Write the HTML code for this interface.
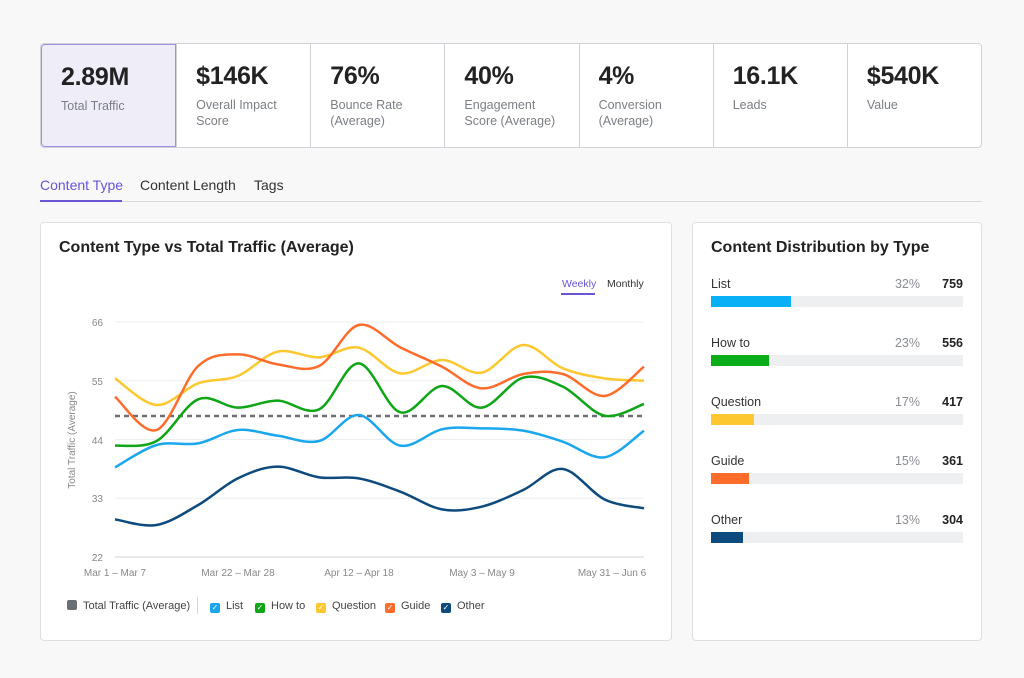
<!DOCTYPE html>
<html><head><meta charset="utf-8"><style>
*{box-sizing:border-box;margin:0;padding:0}
body{width:1024px;height:678px;background:#f8f8f8;font-family:"Liberation Sans",sans-serif;position:relative;overflow:hidden;color:#222}
.abs{position:absolute}
.kpi{left:40px;top:43px;width:942px;height:105px;border:1px solid #cfd3d8;border-radius:4px;background:#fff;display:flex;overflow:hidden}
.kpi div{flex:1;border-left:1px solid #cfd3d8;padding:18px 0 0 19px}
.kpi div:first-child{border:1px solid #9d8ee6;background:#efedf8;border-radius:4px 0 0 4px}
.kpi b{display:block;font-size:25px;font-weight:bold;color:#222;letter-spacing:-0.3px}
.kpi span{display:block;font-size:12.5px;color:#7b7f85;line-height:16px;margin-top:6px}
.tab{top:177px;font-size:14px;color:#333}
.card{background:#fff;border:1px solid #dcdfe3;border-radius:4px}
.row{position:absolute;left:711px;width:252px;font-size:12.5px;color:#333}
.row .p{position:absolute;right:43px;top:0;color:#8a8d92}
.row .v{position:absolute;right:0;top:0;font-weight:bold;color:#222}
.row .bg{position:absolute;left:0;top:19px;width:252px;height:11px;background:#eeeff1}
.row .fg{position:absolute;left:0;top:0;height:11px}
.lg{position:absolute;top:600px;font-size:11px;color:#444}
.lg i{display:inline-block;width:10px;height:10px;border-radius:2px;vertical-align:-1px;margin-right:6px;color:#fff;font-size:8px;line-height:10px;text-align:center;font-style:normal}
</style></head><body>
<div class="abs kpi">
<div><b>2.89M</b><span>Total Traffic</span></div>
<div><b>$146K</b><span>Overall Impact<br>Score</span></div>
<div><b>76%</b><span>Bounce Rate<br>(Average)</span></div>
<div><b>40%</b><span>Engagement<br>Score (Average)</span></div>
<div><b>4%</b><span>Conversion<br>(Average)</span></div>
<div><b>16.1K</b><span>Leads</span></div>
<div><b>$540K</b><span>Value</span></div>
</div>
<div class="abs tab" style="left:40px;color:#6a55d6">Content Type</div>
<div class="abs tab" style="left:140px">Content Length</div>
<div class="abs tab" style="left:254px">Tags</div>
<div class="abs" style="left:40px;top:201px;width:942px;height:1px;background:#d5d8dc"></div>
<div class="abs" style="left:40px;top:200px;width:82px;height:2px;background:#6a55d6"></div>

<div class="abs card" style="left:40px;top:222px;width:632px;height:419px"></div>
<div class="abs" style="left:59px;top:239px;font-size:16px;font-weight:bold;color:#222">Content Type vs Total Traffic (Average)</div>
<div class="abs" style="left:562px;top:278px;font-size:10.5px;color:#6a55d6">Weekly</div>
<div class="abs" style="left:561px;top:293px;width:34px;height:2px;background:#6a55d6"></div>
<div class="abs" style="left:607px;top:278px;font-size:10.5px;color:#333">Monthly</div>

<svg class="abs" style="left:0;top:0" width="1024" height="678" id="s">
<g stroke="#eceef0" stroke-width="1">
<line x1="115" x2="644" y1="322" y2="322"/><line x1="115" x2="644" y1="380.7" y2="380.7"/><line x1="115" x2="644" y1="439.5" y2="439.5"/><line x1="115" x2="644" y1="498.2" y2="498.2"/><line x1="115" x2="644" y1="557" y2="557" stroke="#d0d3d7"/>
</g>
<g font-family="Liberation Sans" font-size="10" fill="#888" text-anchor="end">
<text x="103" y="326">66</text><text x="103" y="385">55</text><text x="103" y="444">44</text><text x="103" y="502">33</text><text x="103" y="561">22</text>
</g>
<g font-family="Liberation Sans" font-size="10" fill="#888" text-anchor="middle">
<text x="115" y="576">Mar 1 – Mar 7</text><text x="238" y="576">Mar 22 – Mar 28</text><text x="359" y="576">Apr 12 – Apr 18</text><text x="482" y="576">May 3 – May 9</text><text x="612" y="576">May 31 – Jun 6</text>
</g>
<text transform="translate(75,440) rotate(-90)" font-family="Liberation Sans" font-size="10" fill="#888" text-anchor="middle">Total Traffic (Average)</text>
<line x1="115" x2="644" y1="416" y2="416" stroke="#6b6e72" stroke-width="2.5" stroke-dasharray="5,4"/>
</svg>

<div class="lg" style="left:67px"><i style="background:#6b6e72"></i>Total Traffic (Average)</div>
<div class="abs" style="left:197px;top:597px;width:1px;height:17px;background:#d5d8dc"></div>
<div class="lg" style="left:210px"><i style="background:#1aa7ee">✓</i>List</div>
<div class="lg" style="left:255px"><i style="background:#0ea516">✓</i>How to</div>
<div class="lg" style="left:316px"><i style="background:#fdc82f">✓</i>Question</div>
<div class="lg" style="left:385px"><i style="background:#fe6c2b">✓</i>Guide</div>
<div class="lg" style="left:441px"><i style="background:#0d4a7d">✓</i>Other</div>

<div class="abs card" style="left:692px;top:222px;width:290px;height:419px"></div>
<div class="abs" style="left:711px;top:239px;font-size:16px;font-weight:bold;color:#222">Content Distribution by Type</div>
<div class="row" style="top:277px">List<span class="p">32%</span><span class="v">759</span><div class="bg"><div class="fg" style="width:80px;background:#0ab0f5"></div></div></div>
<div class="row" style="top:336px">How to<span class="p">23%</span><span class="v">556</span><div class="bg"><div class="fg" style="width:58px;background:#0aad17"></div></div></div>
<div class="row" style="top:395px">Question<span class="p">17%</span><span class="v">417</span><div class="bg"><div class="fg" style="width:43px;background:#fdc82f"></div></div></div>
<div class="row" style="top:454px">Guide<span class="p">15%</span><span class="v">361</span><div class="bg"><div class="fg" style="width:38px;background:#fe6c2b"></div></div></div>
<div class="row" style="top:513px">Other<span class="p">13%</span><span class="v">304</span><div class="bg"><div class="fg" style="width:32px;background:#0d4a7d"></div></div></div>

<script>
var X=[115,156.6,198.2,237.8,277.5,319.1,358.7,400.3,441.9,481.6,523.2,562.8,604.4,644];
var S=[
["#fdc82f",[355,435,370,348,275,292,263,340,300,338,255,325,355,362]],
["#fe6c2b",[410,510,318,283,313,318,195,262,320,385,342,342,408,320]],
["#0ea516",[557,543,418,443,422,448,310,457,378,443,353,380,467,432]],
["#1aa7ee",[622,555,550,510,527,543,465,557,508,505,512,545,592,512]],
["#0d4a7d",[778,795,735,655,620,652,655,695,748,740,690,627,718,745]]];
var svg=document.getElementById('s'),ns="http://www.w3.org/2000/svg";
S.forEach(function(s){
 var P=s[1].map(function(v,i){return [X[i],260+v/3];});
 var d="M"+P[0][0]+","+P[0][1];
 for(var i=0;i<P.length-1;i++){
  var p0=P[Math.max(0,i-1)],p1=P[i],p2=P[i+1],p3=P[Math.min(P.length-1,i+2)],t=6;
  d+=" C"+(p1[0]+(p2[0]-p0[0])/t)+","+(p1[1]+(p2[1]-p0[1])/t)+" "+(p2[0]-(p3[0]-p1[0])/t)+","+(p2[1]-(p3[1]-p1[1])/t)+" "+p2[0]+","+p2[1];
 }
 var e=document.createElementNS(ns,"path");
 e.setAttribute("d",d);e.setAttribute("fill","none");e.setAttribute("stroke",s[0]);e.setAttribute("stroke-width","2.5");
 svg.appendChild(e);
});
</script>
</body></html>
